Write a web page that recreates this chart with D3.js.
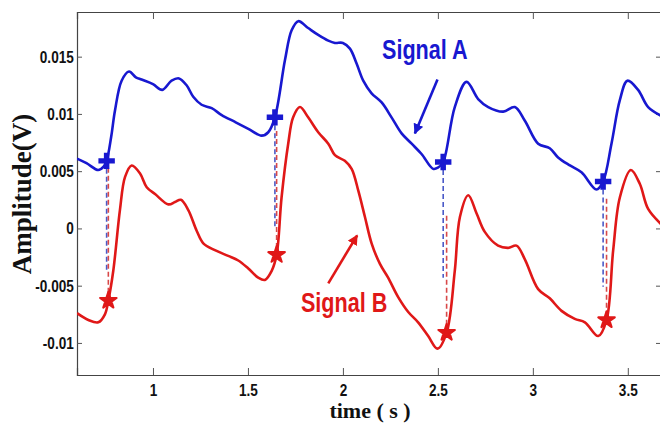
<!DOCTYPE html>
<html>
<head>
    <meta charset="utf-8">
    <title>Signals</title>
    <script src="https://d3js.org/d3.v7.min.js"></script>
    <style>
        body { margin: 0; background: #fff; }
        .tick-label { font: bold 17px "Liberation Sans Narrow", "Arial Narrow", "Liberation Sans", sans-serif; fill: #111; }
        .axis-title { font-family: "Liberation Serif", "Times New Roman", serif; font-weight: bold; fill: #111; }
        .note { font: bold 27px "Liberation Sans Narrow", "Arial Narrow", "Liberation Sans", sans-serif; }
    </style>
</head>
<body>
<svg width="660" height="426"></svg>
<script>
    // signal A (blue) samples: time (s), amplitude (V)
    var timeA = [0.600, 0.650, 0.712, 0.740, 0.756, 0.780, 0.800, 0.835, 0.874, 0.910, 0.940, 1.000, 1.049, 1.098, 1.137, 1.177,
        1.212, 1.256, 1.309, 1.362, 1.432, 1.502, 1.572, 1.607, 1.642, 1.695, 1.730, 1.765, 1.817, 1.870, 1.923, 1.958,
        2.000, 2.037, 2.072, 2.107, 2.151, 2.204, 2.256, 2.309, 2.362, 2.414, 2.475, 2.500, 2.528, 2.589, 2.651, 2.712,
        2.765, 2.844, 2.905, 2.958, 3.028, 3.089, 3.133, 3.195, 3.256, 3.335, 3.370, 3.414, 3.458, 3.498, 3.554, 3.607, 3.680];
    var ampA = [0.0061, 0.0057, 0.0051, 0.0054, 0.0059, 0.0080, 0.0103, 0.0129, 0.0137, 0.0132, 0.0130, 0.0126, 0.0121, 0.0129, 0.0131, 0.0125,
        0.0115, 0.0108, 0.0105, 0.0099, 0.0093, 0.0087, 0.0081, 0.0084, 0.0097, 0.0147, 0.0173, 0.0181, 0.0175, 0.0169, 0.0164, 0.0162,
        0.0162, 0.0157, 0.0144, 0.0129, 0.0118, 0.0110, 0.0097, 0.0083, 0.0074, 0.0065, 0.0052, 0.0053, 0.0058, 0.0106, 0.0128, 0.0113,
        0.0106, 0.0102, 0.0106, 0.0094, 0.0074, 0.0070, 0.0062, 0.0055, 0.0049, 0.0034, 0.0041, 0.0074, 0.0112, 0.0129, 0.0121, 0.0106, 0.0098];

    // signal B (red) samples
    var timeB = [0.600, 0.660, 0.712, 0.747, 0.765, 0.791, 0.826, 0.853, 0.888, 0.932, 0.967, 1.011, 1.081, 1.116, 1.147, 1.186,
        1.230, 1.265, 1.326, 1.396, 1.449, 1.502, 1.554, 1.589, 1.625, 1.651, 1.677, 1.712, 1.738, 1.774, 1.817, 1.870,
        1.923, 1.958, 2.010, 2.046, 2.081, 2.116, 2.151, 2.195, 2.238, 2.291, 2.344, 2.396, 2.449, 2.498, 2.546, 2.589,
        2.616, 2.660, 2.704, 2.747, 2.817, 2.870, 2.914, 2.958, 3.028, 3.089, 3.151, 3.221, 3.274, 3.344, 3.388, 3.423,
        3.458, 3.516, 3.563, 3.607, 3.680];
    var ampB = [-0.0074, -0.0080, -0.0082, -0.0075, -0.0063, -0.0037, 0.0016, 0.0045, 0.0055, 0.0048, 0.0036, 0.0030, 0.0021, 0.0023, 0.0025, 0.0016,
        -0.0002, -0.0013, -0.0019, -0.0024, -0.0028, -0.0035, -0.0043, -0.0045, -0.0037, -0.0023, 0.0027, 0.0074, 0.0097, 0.0106, 0.0097, 0.0084,
        0.0074, 0.0064, 0.0059, 0.0052, 0.0033, 0.0010, -0.0013, -0.0031, -0.0043, -0.0060, -0.0073, -0.0082, -0.0094, -0.0105, -0.0091, -0.0037,
        0.0010, 0.0029, 0.0013, -0.0003, -0.0015, -0.0017, -0.0015, -0.0027, -0.0053, -0.0061, -0.0072, -0.0079, -0.0082, -0.0094, -0.0080, -0.0019,
        0.0027, 0.0051, 0.0039, 0.0017, 0.0003];

    // detected onsets
    var onsetTimeA = [0.756, 1.642, 2.528, 3.370];
    var onsetAmpA = [0.0059, 0.0097, 0.0058, 0.0041];
    var onsetTimeB = [0.765, 1.651, 2.546, 3.388];
    var onsetAmpB = [-0.0063, -0.0023, -0.0091, -0.0080];
    var dashEndA = [-0.0037, 0.0001, -0.0043, -0.0051];   // blue dashes run down to here
    var dashStartB = [0.0053, 0.0085, 0.0011, 0.0026];   // red dashes start here

    var xTicks = [1, 1.5, 2, 2.5, 3, 3.5];
    var yTicks = [-0.01, -0.005, 0, 0.005, 0.01, 0.015];

    var blue = "#1818d0", red = "#e01818";
    var narrow = 0.8;   // no narrow font installed, squeeze the sans text instead

    var svg = d3.select("svg");
    var m = {left: 77, right: 662, top: 12, bottom: 375};

    var x = d3.scaleLinear().domain([0.6, 3.68]).range([m.left, m.right]);
    var y = d3.scaleLinear().domain([-0.0128, 0.0189]).range([m.bottom, m.top]);

    var defs = svg.append("defs");
    defs.append("clipPath").attr("id", "clip")
        .append("rect").attr("x", m.left).attr("y", m.top)
        .attr("width", m.right - m.left).attr("height", m.bottom - m.top);

    [["headA", blue], ["headB", red]].forEach(function (h) {
        defs.append("marker").attr("id", h[0])
            .attr("viewBox", "0 0 10 10").attr("refX", 9).attr("refY", 5)
            .attr("markerWidth", 4).attr("markerHeight", 4).attr("orient", "auto")
            .append("path").attr("d", "M0,0L10,5L0,10z").attr("fill", h[1]);
    });

    // axes (ticks point inward, box style)
    var fmt = d => String(d);
    svg.append("g").attr("transform", "translate(0," + m.bottom + ")")
        .call(d3.axisBottom(x).tickValues(xTicks).tickSize(-7).tickPadding(9).tickFormat(fmt));
    svg.append("g").attr("transform", "translate(0," + m.top + ")")
        .call(d3.axisTop(x).tickValues(xTicks).tickSize(-7).tickFormat(""));
    svg.append("g").attr("transform", "translate(" + m.left + ",0)")
        .call(d3.axisLeft(y).tickValues(yTicks).tickSize(-5).tickPadding(4).tickFormat(fmt));
    svg.append("g").attr("transform", "translate(" + m.right + ",0)")
        .call(d3.axisRight(y).tickValues(yTicks).tickSize(-6).tickFormat(""));

    svg.selectAll(".domain").attr("stroke", "#444").attr("stroke-width", 1.2);
    svg.selectAll(".tick line").attr("stroke", "#555");
    svg.selectAll(".tick text").attr("class", "tick-label").attr("fill", null)
        .attr("transform", "scale(" + narrow + ",1)");

    svg.append("text").attr("class", "axis-title")
        .attr("transform", "translate(31,194) rotate(-90)")
        .attr("text-anchor", "middle").style("font-size", "27px")
        .text("Amplitude(V)");
    svg.append("text").attr("class", "axis-title")
        .attr("x", 370).attr("y", 418).attr("text-anchor", "middle").style("font-size", "22px")
        .text("time ( s )");

    var plot = svg.append("g").attr("clip-path", "url(#clip)");

    // dashed drop lines between onsets
    plot.selectAll(".dashA").data(onsetTimeA).enter().append("line")
        .attr("x1", d => x(d)).attr("x2", d => x(d))
        .attr("y1", (d, i) => y(onsetAmpA[i])).attr("y2", (d, i) => y(dashEndA[i]))
        .attr("stroke", "#4a5ac8").attr("stroke-width", 1.6).attr("stroke-dasharray", "5,3");
    plot.selectAll(".dashB").data(onsetTimeB).enter().append("line")
        .attr("x1", d => x(d)).attr("x2", d => x(d))
        .attr("y1", (d, i) => y(dashStartB[i])).attr("y2", (d, i) => y(onsetAmpB[i]))
        .attr("stroke", "#d84848").attr("stroke-width", 1.6).attr("stroke-dasharray", "5,3");

    var line = d3.line().curve(d3.curveCatmullRom.alpha(0.5));

    plot.append("path")
        .attr("d", line(timeA.map((t, i) => [x(t), y(ampA[i])])))
        .attr("fill", "none").attr("stroke", blue).attr("stroke-width", 2.6);
    plot.append("path")
        .attr("d", line(timeB.map((t, i) => [x(t), y(ampB[i])])))
        .attr("fill", "none").attr("stroke", red).attr("stroke-width", 2.6);

    // onset markers
    plot.selectAll(".plus").data(onsetTimeA).enter().append("path")
        .attr("transform", (d, i) => "translate(" + x(d) + "," + y(onsetAmpA[i]) + ")")
        .attr("d", d3.symbol().type(d3.symbolCross).size(150))
        .attr("fill", blue);
    plot.selectAll(".star").data(onsetTimeB).enter().append("path")
        .attr("transform", (d, i) => "translate(" + x(d) + "," + y(onsetAmpB[i]) + ")")
        .attr("d", d3.symbol().type(d3.symbolStar).size(85))
        .attr("fill", red).attr("stroke", red).attr("stroke-width", 2).attr("stroke-linejoin", "round");

    // annotations
    svg.append("text").attr("class", "note").attr("fill", blue)
        .attr("transform", "translate(" + x(2.206) + "," + y(0.0148) + ") scale(" + narrow + ",1)")
        .text("Signal A");
    svg.append("line")
        .attr("x1", x(2.498)).attr("y1", y(0.0130)).attr("x2", x(2.379)).attr("y2", y(0.0083))
        .attr("stroke", blue).attr("stroke-width", 2.6).attr("marker-end", "url(#headA)");

    svg.append("text").attr("class", "note").attr("fill", red)
        .attr("transform", "translate(" + x(1.779) + "," + y(-0.0073) + ") scale(" + narrow + ",1)")
        .text("Signal B");
    svg.append("line")
        .attr("x1", x(1.923)).attr("y1", y(-0.0048)).attr("x2", x(2.075)).attr("y2", y(-0.0006))
        .attr("stroke", red).attr("stroke-width", 2.6).attr("marker-end", "url(#headB)");
</script>
</body>
</html>
